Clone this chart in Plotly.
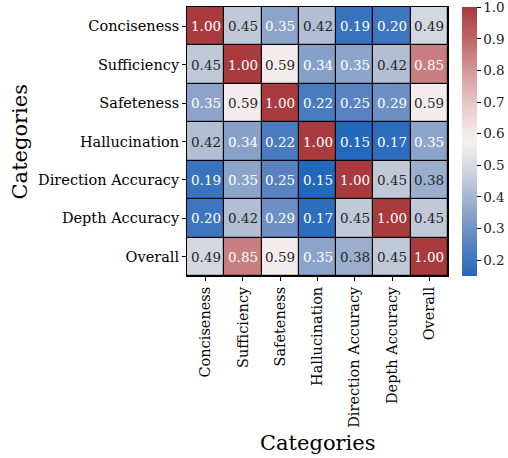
import plotly.graph_objects as go

categories = ["Conciseness", "Sufficiency", "Safeteness", "Hallucination",
              "Direction Accuracy", "Depth Accuracy", "Overall"]
values = [
    [1.00, 0.45, 0.35, 0.42, 0.19, 0.20, 0.49],
    [0.45, 1.00, 0.59, 0.34, 0.35, 0.42, 0.85],
    [0.35, 0.59, 1.00, 0.22, 0.25, 0.29, 0.59],
    [0.42, 0.34, 0.22, 1.00, 0.15, 0.17, 0.35],
    [0.19, 0.35, 0.25, 0.15, 1.00, 0.45, 0.38],
    [0.20, 0.42, 0.29, 0.17, 0.45, 1.00, 0.45],
    [0.49, 0.85, 0.59, 0.35, 0.38, 0.45, 1.00],
]
colorbar_ticks = [0.2, 0.3, 0.4, 0.5, 0.6, 0.7, 0.8, 0.9, 1.0]

vlag = [
    [0.0, "#2268bd"], [0.12, "#5a83c1"], [0.25, "#92a8ca"], [0.375, "#cbd0dc"],
    [0.5, "#f5f1f1"], [0.62, "#eccfcf"], [0.76, "#d59a9a"], [0.88, "#bf6466"],
    [1.0, "#a93a3e"],
]

FONT = "DejaVu Serif"
zmin, zmax = 0.15, 1.0005

fig = go.Figure(go.Heatmap(
    z=values, x=categories, y=categories,
    colorscale=vlag, zmin=zmin, zmax=zmax,
    xgap=1.2, ygap=1.2,
    hoverinfo="skip",
    colorbar=dict(
        x=1.052, xanchor="left", y=0.5, yanchor="middle", len=1.0, lenmode="fraction",
        thickness=15, outlinewidth=0, xpad=0, ypad=0, tickvals=colorbar_ticks,
        ticktext=[f"{t:.1f}" for t in colorbar_ticks],
        ticks="outside", ticklen=4, tickcolor="black", ticklabeloverflow="allow",
        tickfont=dict(family=FONT, size=13.5, color="#222"),
    ),
))

annotations = []
for i, row in enumerate(values):
    for j, v in enumerate(row):
        light = 0.37 <= v <= 0.7
        annotations.append(dict(
            x=categories[j], y=categories[i], text=f"{v:.2f}", showarrow=False,
            font=dict(family=FONT, size=13.5, color="#262626" if light else "white"),
        ))
annotations.append(dict(text="Categories", xref="paper", yref="paper", x=0.5, y=-0.62,
                        xanchor="center", yanchor="middle",
                        showarrow=False, font=dict(family=FONT, size=21, color="black")))
annotations.append(dict(text="Categories", xref="paper", yref="paper", x=-0.64, y=0.5,
                        xanchor="center", yanchor="middle",
                        textangle=-90, showarrow=False, font=dict(family=FONT, size=21, color="black")))

fig.update_layout(
    width=508, height=458,
    margin=dict(l=187, r=60, t=7, b=182, autoexpand=False),
    paper_bgcolor="white", plot_bgcolor="black",
    annotations=annotations,
    font=dict(family=FONT, size=14, color="black"),
)
fig.update_xaxes(tickangle=-90, ticks="outside", ticklen=4, tickcolor="black",
                 tickfont=dict(family=FONT, size=14.5, color="black"),
                 showline=True, linecolor="black", linewidth=1, mirror=True, showgrid=False)
fig.update_yaxes(autorange="reversed", ticks="outside", ticklen=4, tickcolor="black",
                 tickfont=dict(family=FONT, size=14.5, color="black"),
                 showline=True, linecolor="black", linewidth=1, mirror=True, showgrid=False)

fig.write_html("out.html", config={"displayModeBar": False},
               post_script="document.body.style.margin='0';document.body.style.overflow='hidden';")
